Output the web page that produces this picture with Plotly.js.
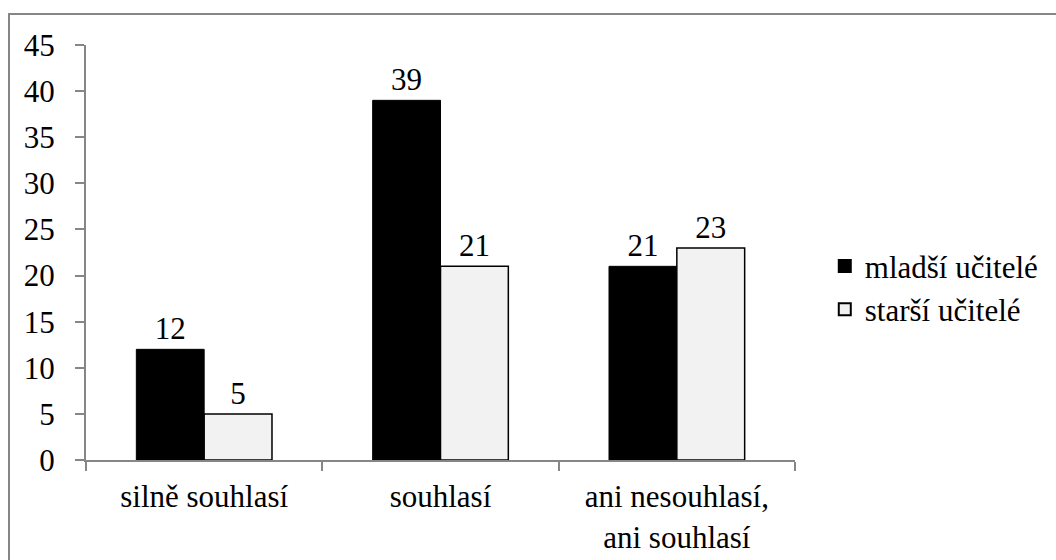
<!DOCTYPE html>
<html>
<head>
<meta charset="utf-8">
<script src="https://cdn.plot.ly/plotly-3.0.1.min.js"></script>
<style>
  html, body { margin: 0; padding: 0; background: #ffffff; }
  #frame { position: absolute; left: 8px; top: 13px; width: 1060px; height: 580px;
           border: 2px solid #878787; box-sizing: border-box; }
  #chart { position: absolute; left: 0; top: 0; width: 1056px; height: 560px; }
  #warm { position: absolute; left: 0; top: 0; font-family: "Liberation Serif"; font-size: 31px; color: #ffffff; }
</style>
</head>
<body>
<div id="warm">&nbsp;</div>
<div id="frame"></div>
<div id="chart"></div>
<script>
const categories = ["silně souhlasí", "souhlasí", "ani nesouhlasí,<br>ani souhlasí"];
const seriesNames = ["mladší učitelé", "starší učitelé"];
const youngValues = [12, 39, 21];
const olderValues = [5, 21, 23];
const yTicks = [0, 5, 10, 15, 20, 25, 30, 35, 40, 45];

const fontFamily = "Liberation Serif";
const axisGray = "#868686";

const traces = [
  {
    type: "bar", name: seriesNames[0], x: categories, y: youngValues,
    marker: { color: "#000000", line: { color: "#000000", width: 1 } },
    text: youngValues.map(String), textposition: "outside", cliponaxis: false,
    textfont: { family: fontFamily, size: 31, color: "#000000" },
    hoverinfo: "skip"
  },
  {
    type: "bar", name: seriesNames[1], x: categories, y: olderValues,
    marker: { color: "#f2f2f2", line: { color: "#000000", width: 1.5 } },
    text: olderValues.map(String), textposition: "outside", cliponaxis: false,
    textfont: { family: fontFamily, size: 31, color: "#000000" },
    hoverinfo: "skip"
  }
];

const layout = {
  width: 1056, height: 560,
  margin: { l: 86, r: 259, t: 45, b: 100, pad: 0 },
  paper_bgcolor: "rgba(0,0,0,0)",
  plot_bgcolor: "rgba(0,0,0,0)",
  font: { family: fontFamily, size: 31, color: "#000000" },
  barmode: "group",
  bargap: 0.426,
  bargroupgap: 0,
  showlegend: true,
  legend: {
    x: 1.042, xanchor: "left", y: 0.415, yanchor: "middle",
    font: { family: fontFamily, size: 31, color: "#000000" },
    bgcolor: "rgba(0,0,0,0)", tracegroupgap: 0, itemsizing: "constant"
  },
  xaxis: {
    type: "category",
    showline: true, linecolor: axisGray, linewidth: 2,
    ticks: "outside", tickson: "boundaries", ticklen: 9, tickcolor: axisGray, tickwidth: 2,
    ticklabelstandoff: 8,
    showgrid: false, zeroline: false,
    tickfont: { family: fontFamily, size: 31, color: "#000000" }
  },
  yaxis: {
    range: [0, 45], tickvals: yTicks, ticktext: yTicks.map(String),
    showline: true, linecolor: axisGray, linewidth: 2,
    ticks: "outside", ticklen: 9, tickcolor: axisGray, tickwidth: 2,
    ticklabelstandoff: 14,
    showgrid: false, zeroline: false,
    tickfont: { family: fontFamily, size: 31, color: "#000000" }
  }
};

function draw() {
  return Plotly.newPlot("chart", traces, layout, { displayModeBar: false, staticPlot: true }).then(function () {
    document.getElementById("frame").style.borderColor = "#868686";
  });
}

const fontReady = (document.fonts && document.fonts.load)
  ? document.fonts.load('31px "Liberation Serif"', "silně 0123456789").catch(function () {})
  : Promise.resolve();
fontReady.then(draw, draw);
</script>
</body>
</html>
